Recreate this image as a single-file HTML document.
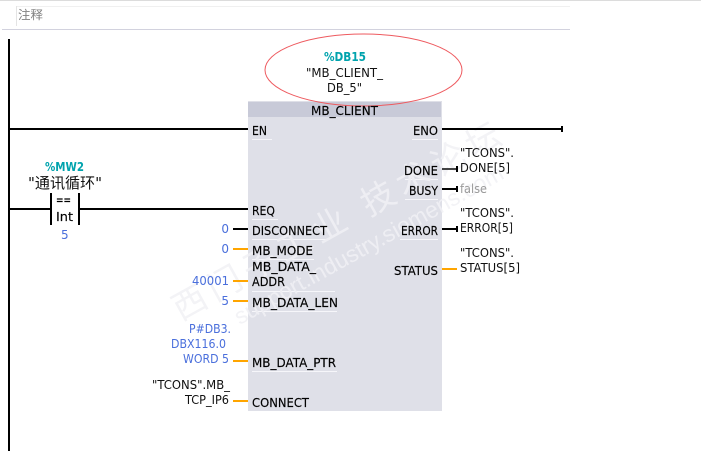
<!DOCTYPE html>
<html><head><meta charset="utf-8"><style>
html,body{margin:0;padding:0;background:#fff;width:701px;height:462px;overflow:hidden}
svg{display:block}
text{font-family:"DejaVu Sans","Noto Sans CJK SC",sans-serif;font-size:12px;fill:#111}
.p{fill:#000;stroke:#000;stroke-width:.15;font-size:12.5px}
.b{fill:#4a6fdc}
.t{fill:#00a3ad;font-weight:bold;font-size:12px}
.e{text-anchor:end}
.wm1{font-family:"Liberation Sans","Noto Sans CJK SC",sans-serif;font-size:34px;letter-spacing:6px}
.wm2{font-family:"Liberation Sans",sans-serif;font-size:23px}
</style></head><body>
<svg width="701" height="462" viewBox="0 0 701 462" xmlns="http://www.w3.org/2000/svg">
<defs><clipPath id="bk"><rect x="248" y="117" width="194" height="294"/></clipPath></defs>
<rect width="701" height="462" fill="#fff"/>
<rect x="0" y="0" width="701" height="1" fill="#dcdcdc"/>
<rect x="16" y="6" width="554" height="1" fill="#f0f0f0"/>
<rect x="16" y="6" width="1" height="20" fill="#e4e4e4"/>
<rect x="2" y="29" width="568" height="1" fill="#d2d2de"/>
<text x="18" y="19" style="fill:#808080;font-size:12px" textLength="25" lengthAdjust="spacingAndGlyphs">注释</text>

<rect x="8" y="39" width="2" height="412" fill="#000"/>

<!-- watermark on white -->
<g transform="rotate(-29 338 218)" text-anchor="middle">
<text class="wm1" x="338" y="232" style="fill:#f3f3f6">西门子工业 技术论坛</text>
<text class="wm2" x="352" y="264" style="fill:#f3f3f6">support.industry.siemens.com</text>
</g>

<!-- block -->
<rect x="248" y="101" width="194" height="310" fill="#dfe0e8"/>
<rect x="248" y="102" width="193" height="15" fill="#c8cad8"/>
<g fill="#f6f6fa">
<rect x="252" y="139" width="20" height="1"/>
<rect x="252" y="219" width="26" height="1"/>
<rect x="252" y="239" width="75" height="1"/>
<rect x="252" y="259" width="62" height="1"/>
<rect x="252" y="291" width="83" height="1"/>
<rect x="252" y="311" width="85" height="1"/>
<rect x="252" y="371" width="85" height="1"/>
<rect x="412" y="139" width="26" height="1"/>
<rect x="405" y="179" width="33" height="1"/>
<rect x="405" y="199" width="33" height="1"/>
<rect x="400" y="239" width="38" height="1"/>
</g>

<!-- watermark on block -->
<g clip-path="url(#bk)">
<g transform="rotate(-29 338 218)" text-anchor="middle">
<text class="wm1" x="338" y="232" style="fill:#eeeef3">西门子工业 技术论坛</text>
<text class="wm2" x="352" y="264" style="fill:#eeeef3">support.industry.siemens.com</text>
</g>
</g>

<ellipse cx="363.5" cy="70" rx="98.5" ry="36" fill="none" stroke="#ee5a5f" stroke-width="1"/>

<!-- wires black -->
<g fill="#000">
<rect x="10" y="128" width="238" height="2"/>
<rect x="442" y="128" width="120" height="2"/>
<rect x="561" y="126" width="2" height="6"/>
<rect x="10" y="208" width="40" height="2"/>
<rect x="80" y="208" width="168" height="2"/>
<rect x="50" y="193" width="2" height="32"/>
<rect x="78" y="193" width="2" height="32"/>
<rect x="233" y="228" width="15" height="2"/>
<rect x="442" y="168" width="15" height="2" fill="#444"/>
<rect x="456" y="166" width="2" height="6"/>
<rect x="442" y="188" width="15" height="2"/>
<rect x="456" y="186" width="2" height="6"/>
<rect x="442" y="228" width="15" height="2"/>
<rect x="456" y="226" width="2" height="6"/>
</g>
<!-- wires orange -->
<g fill="#ffa500">
<rect x="233" y="248" width="15" height="2"/>
<rect x="233" y="280" width="15" height="2"/>
<rect x="233" y="300" width="15" height="2"/>
<rect x="233" y="360" width="15" height="2"/>
<rect x="233" y="400" width="15" height="2"/>
<rect x="442" y="268" width="15" height="2"/>
</g>

<!-- instance -->
<text class="t" x="324" y="61" textLength="42" lengthAdjust="spacingAndGlyphs">%DB15</text>
<text x="306" y="77" textLength="77" lengthAdjust="spacingAndGlyphs">"MB_CLIENT_</text>
<text x="327" y="92" textLength="35" lengthAdjust="spacingAndGlyphs">DB_5"</text>
<text class="p" x="311" y="115" textLength="67" lengthAdjust="spacingAndGlyphs">MB_CLIENT</text>

<!-- pins in -->
<text class="p" x="252" y="135" textLength="15" lengthAdjust="spacingAndGlyphs">EN</text>
<text class="p" x="252" y="215" textLength="23" lengthAdjust="spacingAndGlyphs">REQ</text>
<text class="p" x="252" y="235" textLength="75" lengthAdjust="spacingAndGlyphs">DISCONNECT</text>
<text class="p" x="252" y="255" textLength="61" lengthAdjust="spacingAndGlyphs">MB_MODE</text>
<text class="p" x="252" y="271" textLength="64" lengthAdjust="spacingAndGlyphs">MB_DATA_</text>
<text class="p" x="252" y="286" textLength="33" lengthAdjust="spacingAndGlyphs">ADDR</text>
<text class="p" x="252" y="307" textLength="86" lengthAdjust="spacingAndGlyphs">MB_DATA_LEN</text>
<text class="p" x="252" y="367" textLength="84" lengthAdjust="spacingAndGlyphs">MB_DATA_PTR</text>
<text class="p" x="252" y="407" textLength="57" lengthAdjust="spacingAndGlyphs">CONNECT</text>

<!-- pins out -->
<text class="p" x="413" y="135" textLength="25" lengthAdjust="spacingAndGlyphs">ENO</text>
<text class="p" x="404" y="175" textLength="34" lengthAdjust="spacingAndGlyphs">DONE</text>
<text class="p" x="409" y="195" textLength="29" lengthAdjust="spacingAndGlyphs">BUSY</text>
<text class="p" x="401" y="235" textLength="37" lengthAdjust="spacingAndGlyphs">ERROR</text>
<text class="p" x="394" y="275" textLength="44" lengthAdjust="spacingAndGlyphs">STATUS</text>

<!-- output operands -->
<text x="460" y="157" textLength="54" lengthAdjust="spacingAndGlyphs">"TCONS".</text>
<text x="460" y="172" textLength="50" lengthAdjust="spacingAndGlyphs">DONE[5]</text>
<text x="460" y="193" textLength="27" lengthAdjust="spacingAndGlyphs" style="fill:#9a9a9a">false</text>
<text x="460" y="217" textLength="54" lengthAdjust="spacingAndGlyphs">"TCONS".</text>
<text x="460" y="232" textLength="53" lengthAdjust="spacingAndGlyphs">ERROR[5]</text>
<text x="460" y="257" textLength="54" lengthAdjust="spacingAndGlyphs">"TCONS".</text>
<text x="460" y="272" textLength="60" lengthAdjust="spacingAndGlyphs">STATUS[5]</text>

<!-- input operands -->
<text class="b e" x="229" y="233">0</text>
<text class="b e" x="229" y="253">0</text>
<text class="b" x="192" y="285" textLength="37" lengthAdjust="spacingAndGlyphs">40001</text>
<text class="b e" x="229" y="305">5</text>
<text class="b" x="189" y="333" textLength="42" lengthAdjust="spacingAndGlyphs">P#DB3.</text>
<text class="b" x="171" y="348" textLength="55" lengthAdjust="spacingAndGlyphs">DBX116.0</text>
<text class="b" x="183" y="363" textLength="46" lengthAdjust="spacingAndGlyphs">WORD 5</text>
<text x="152" y="389" textLength="78" lengthAdjust="spacingAndGlyphs">"TCONS".MB_</text>
<text x="185" y="404" textLength="44" lengthAdjust="spacingAndGlyphs">TCP_IP6</text>

<!-- contact -->
<text class="t" x="45" y="171" textLength="39" lengthAdjust="spacingAndGlyphs">%MW2</text>
<text x="28" y="188" textLength="74" lengthAdjust="spacingAndGlyphs" style="font-size:15px">"通讯循环"</text>
<text class="p" x="56" y="204" textLength="15" lengthAdjust="spacingAndGlyphs">==</text>
<text class="p" x="56" y="221" textLength="17" lengthAdjust="spacingAndGlyphs">Int</text>
<text class="b" x="61" y="239">5</text>
</svg>
</body></html>
